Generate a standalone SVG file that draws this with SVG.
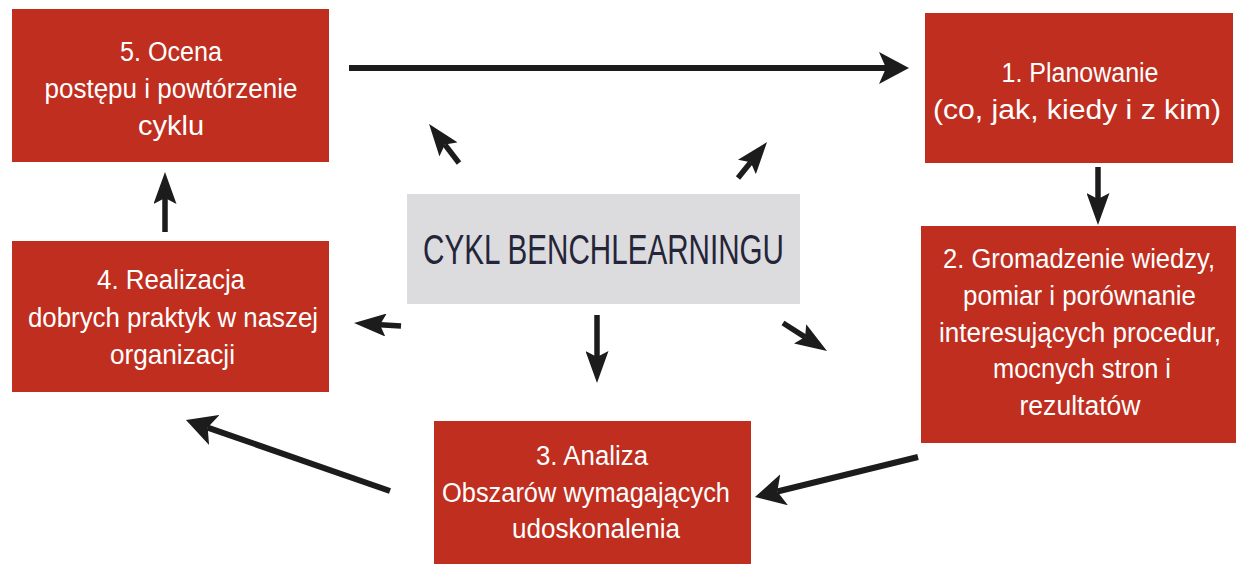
<svg xmlns="http://www.w3.org/2000/svg" width="1239" height="565" viewBox="0 0 1239 565">
<style>
.box{fill:#bf2e1f}
.t{font-family:"Liberation Sans",Arial,sans-serif;font-size:27px;fill:#ffffff;text-anchor:middle}
.c{stroke:#1c1c1c;fill:none}
.big{stroke-width:6;marker-end:url(#ah)}
.mid{stroke-width:5.5;marker-end:url(#ah2)}
</style>
<defs>
<marker id="ah" viewBox="0 0 30 32" markerWidth="30" markerHeight="32" refX="7" refY="16" orient="auto" markerUnits="userSpaceOnUse"><path d="M0,0 L30,16 L0,32 L7,16 z" fill="#1c1c1c"/></marker>
<marker id="ah2" viewBox="0 0 32 23" markerWidth="32" markerHeight="23" refX="6" refY="11.5" orient="auto" markerUnits="userSpaceOnUse"><path d="M0,0 L32,11.5 L0,23 L6,11.5 z" fill="#1c1c1c"/></marker>
</defs>
<rect width="1239" height="565" fill="#ffffff"/>
<g id="center">
<rect x="407" y="194" width="393" height="110" fill="#dcdcde"/>
<text x="603.5" y="264" font-family="Liberation Sans, Arial, sans-serif" font-size="43" fill="#25253a" text-anchor="middle" textLength="361" lengthAdjust="spacingAndGlyphs">CYKL BENCHLEARNINGU</text>
</g>
<g id="node5">
<rect class="box" x="12" y="9" width="317" height="153"/>
<text class="t" x="171" y="61" textLength="102" lengthAdjust="spacingAndGlyphs">5. Ocena</text>
<text class="t" x="171" y="98" textLength="253" lengthAdjust="spacingAndGlyphs">postępu i powtórzenie</text>
<text class="t" x="171" y="135" textLength="66" lengthAdjust="spacingAndGlyphs">cyklu</text>
</g>
<g id="node1">
<rect class="box" x="925" y="13" width="308" height="150"/>
<text class="t" x="1080" y="82" textLength="157" lengthAdjust="spacingAndGlyphs">1. Planowanie</text>
<text class="t" x="1077" y="119" textLength="288" lengthAdjust="spacingAndGlyphs">(co, jak, kiedy i z kim)</text>
</g>
<g id="node2">
<rect class="box" x="921" y="226" width="315" height="217"/>
<text class="t" x="1079" y="268" textLength="272" lengthAdjust="spacingAndGlyphs">2. Gromadzenie wiedzy,</text>
<text class="t" x="1079.5" y="305" textLength="233" lengthAdjust="spacingAndGlyphs">pomiar i porównanie</text>
<text class="t" x="1080" y="342" font-size="26" textLength="282" lengthAdjust="spacingAndGlyphs">interesujących procedur,</text>
<text class="t" x="1082" y="378" textLength="178" lengthAdjust="spacingAndGlyphs">mocnych stron i</text>
<text class="t" x="1080" y="415" textLength="121" lengthAdjust="spacingAndGlyphs">rezultatów</text>
</g>
<g id="node3">
<rect class="box" x="434" y="421" width="317" height="143"/>
<text class="t" x="592" y="465" textLength="112" lengthAdjust="spacingAndGlyphs">3. Analiza</text>
<text class="t" x="586" y="502" textLength="288" lengthAdjust="spacingAndGlyphs">Obszarów wymagających</text>
<text class="t" x="596" y="538" textLength="168" lengthAdjust="spacingAndGlyphs">udoskonalenia</text>
</g>
<g id="node4">
<rect class="box" x="12" y="241" width="317" height="151"/>
<text class="t" x="171" y="289" textLength="148" lengthAdjust="spacingAndGlyphs">4. Realizacja</text>
<text class="t" x="173" y="327" textLength="290" lengthAdjust="spacingAndGlyphs">dobrych praktyk w naszej</text>
<text class="t" x="172.5" y="364" textLength="125" lengthAdjust="spacingAndGlyphs">organizacji</text>
</g>
<g id="connectors">
<line class="c big" x1="349" y1="68" x2="886" y2="68"/>
<line class="c mid" x1="1098" y1="167" x2="1098" y2="199"/>
<line class="c big" x1="918" y1="457" x2="777.3" y2="491.5"/>
<line class="c big" x1="390" y1="491" x2="207.7" y2="427.6"/>
<line class="c mid" x1="165" y1="232" x2="165" y2="198"/>
<line class="c mid" x1="459" y1="163" x2="444.9" y2="144.6"/>
<line class="c mid" x1="738" y1="178" x2="750.7" y2="162.3"/>
<line class="c mid" x1="597" y1="315" x2="597" y2="357"/>
<line class="c mid" x1="783" y1="323" x2="805.1" y2="337.1"/>
<line class="c mid" x1="401" y1="326" x2="380" y2="324.7"/>
</g>
</svg>
